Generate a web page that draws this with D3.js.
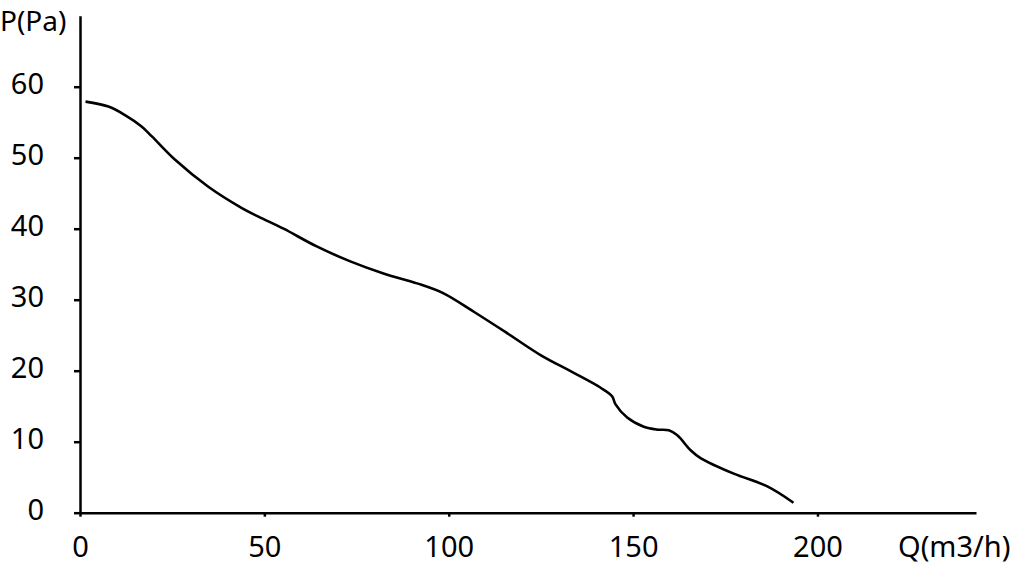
<!DOCTYPE html>
<html>
<head>
<meta charset="utf-8">
<script src="https://cdn.jsdelivr.net/npm/d3@7"></script>
<style>
    body { margin: 0; background: #fff; }
    svg text { font-family: "Noto Sans", sans-serif; fill: #000; }
</style>
</head>
<body>
<div id="chart"></div>
<script>
// Curva caudal / presión
const flowValues = [1.5, 7.7, 12.2, 16.7, 19.5, 25.8, 34.8, 43.9, 48.4, 55.2, 64.2, 73.3, 82.3, 91.4, 98.6,
    106.8, 115.8, 124.9, 133.9, 141.2, 144.3, 145.2, 148.4, 152.9, 156.5, 159.7, 162.0, 165.6, 168.3, 177.3, 186.4, 193.5];
const pressureValues = [57.9, 57.2, 56.0, 54.4, 53.0, 49.7, 45.9, 42.9, 41.7, 40.0, 37.5, 35.4, 33.7, 32.3, 30.9,
    28.3, 25.3, 22.2, 19.7, 17.6, 16.4, 15.3, 13.4, 12.1, 11.7, 11.6, 10.9, 8.8, 7.7, 5.5, 3.7, 1.4];
const xTickValues = [0, 50, 100, 150, 200];
const yTickValues = [0, 10, 20, 30, 40, 50, 60];
const xAxisLabel = "Q(m3/h)";
const yAxisLabel = "P(Pa)";

/**
 * Dibuja la curva de presión en función del caudal.
 * @param containerSelector: Selector del contenedor.
 * @param width: Ancho del gráfico.
 * @param height: Alto del gráfico.
 * @param margin: Margen del gráfico.
 */
const buildCurveChart = (containerSelector, width, height, margin) => {
    const svg = d3.select(containerSelector).append("svg")
        .attr("width", width)
        .attr("height", height);

    const xScale = d3.scaleLinear()
        .domain([0, 243])
        .range([margin.left, width - margin.right]);

    const yScale = d3.scaleLinear()
        .domain([0, 70])
        .range([height - margin.bottom, margin.top]);

    const xAxis = d3.axisBottom(xScale)
        .tickValues(xTickValues)
        .tickSize(4)
        .tickSizeOuter(0)
        .tickPadding(20);

    const gx = svg.append("g")
        .attr("transform", `translate(0,${yScale(0)})`)
        .call(xAxis);

    const yAxis = d3.axisLeft(yScale)
        .tickValues(yTickValues)
        .tickSize(6)
        .tickSizeOuter(0)
        .tickPadding(30);

    const gy = svg.append("g")
        .attr("transform", `translate(${xScale(0)},0)`)
        .call(yAxis);

    [gx, gy].forEach(g => {
        g.select(".domain").attr("stroke", "#000").attr("stroke-width", 2.5);
        g.selectAll(".tick line").attr("stroke", "#000").attr("stroke-width", 2.5);
        g.selectAll(".tick text")
            .attr("font-size", 29)
            .attr("font-family", "Noto Sans, sans-serif")
            .attr("fill", "#000");
    });
    gy.selectAll(".tick text").attr("dy", "0.22em");

    svg.append("text")
        .attr("x", 0)
        .attr("y", 31)
        .attr("font-size", 28)
        .text(yAxisLabel);

    svg.append("text")
        .attr("x", 898)
        .attr("y", yScale(0) + 24)
        .attr("dy", "0.71em")
        .attr("font-size", 29)
        .text(xAxisLabel);

    const points = flowValues.map((q, i) => ({ q: q, p: pressureValues[i] }));

    const line = d3.line()
        .x(d => xScale(d.q))
        .y(d => yScale(d.p))
        .curve(d3.curveCatmullRom.alpha(0.5));

    svg.append("path")
        .datum(points)
        .attr("fill", "none")
        .attr("stroke", "#000")
        .attr("stroke-width", 2.6)
        .attr("d", line);
};

buildCurveChart("#chart", 1019, 565, { top: 15.7, right: 43, bottom: 52.3, left: 80 });
</script>
</body>
</html>
